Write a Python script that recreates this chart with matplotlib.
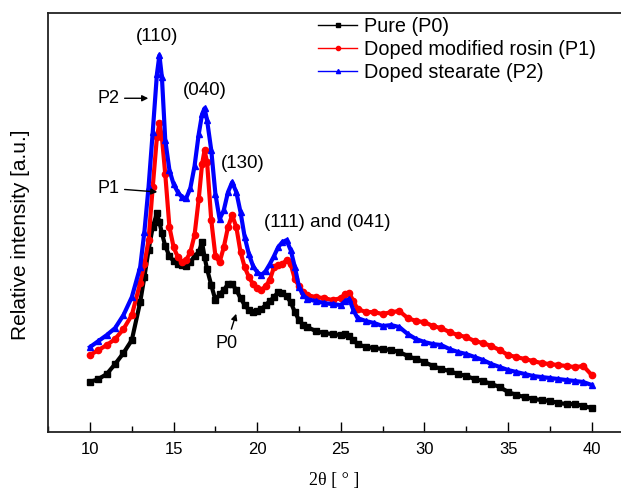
import matplotlib
matplotlib.use("Agg")
import matplotlib.pyplot as plt
from matplotlib.lines import Line2D
from matplotlib.ticker import MultipleLocator

# 2theta grid (deg) and relative intensities (a.u.)
two_theta = [10, 10.5, 11, 11.5, 12, 12.5, 13, 13.25, 13.5, 13.75,
             14, 14.15, 14.3, 14.5, 14.75, 15, 15.25, 15.5, 15.75, 16,
             16.25, 16.5, 16.7, 16.85, 17, 17.25, 17.5, 17.75, 18, 18.25,
             18.5, 18.75, 19, 19.25, 19.5, 19.75, 20, 20.25, 20.5, 20.75,
             21, 21.25, 21.5, 21.75, 22, 22.25, 22.5, 22.75, 23, 23.5,
             24, 24.5, 25, 25.25, 25.5, 25.75, 26, 26.5, 27, 27.5,
             28, 28.5, 29, 29.5, 30, 30.5, 31, 31.5, 32, 32.5,
             33, 33.5, 34, 34.5, 35, 35.5, 36, 36.5, 37, 37.5,
             38, 38.5, 39, 39.5, 40]

p0 = [50, 53, 58, 68, 79, 92, 130, 155, 182, 205,
      219, 210, 199, 186, 176, 171, 168, 167, 166, 170,
      176, 180, 190, 175, 163, 147, 132, 138, 142, 148,
      148, 142, 134, 127, 122, 120, 121, 123, 127, 131,
      135, 140, 139, 136, 130, 120, 112, 107, 105, 101,
      99, 98, 97, 98, 96, 92, 88, 85, 84, 83,
      82, 80, 76, 73, 70, 66, 63, 61, 58, 56,
      53, 51, 48, 45, 40, 37, 35, 33, 32, 31,
      29, 28, 28, 26, 24]

p1 = [77, 82, 87, 93, 103, 117, 149, 168, 192, 245,
      295, 309, 295, 258, 205, 185, 175, 170, 172, 180,
      197, 233, 268, 282, 270, 212, 176, 170, 185, 205,
      217, 205, 180, 165, 155, 148, 144, 142, 146, 152,
      165, 167, 168, 172, 168, 153, 146, 140, 137, 135,
      134, 132, 134, 138, 139, 131, 123, 120, 120, 118,
      120, 121, 114, 111, 110, 106, 104, 100, 97, 95,
      91, 89, 86, 82, 77, 75, 73, 71, 69, 68,
      67, 66, 65, 66, 57]

p2 = [85, 91, 97, 104, 117, 135, 165, 200, 245, 300,
      358, 377, 355, 292, 262, 248, 240, 235, 234, 244,
      266, 298, 318, 324, 312, 282, 238, 213, 222, 240,
      250, 240, 220, 195, 178, 166, 160, 157, 161, 168,
      176, 185, 190, 192, 182, 165, 145, 137, 133, 131,
      129, 128, 127, 131, 133, 122, 114, 111, 109, 106,
      107, 105, 98, 93, 90, 88, 87, 83, 80, 78,
      75, 72, 68, 65, 62, 60, 58, 56, 55, 54,
      53, 52, 51, 50, 47]

labels = ["Pure (P0)", "Doped modified rosin (P1)", "Doped stearate (P2)"]
colors = ["black", "red", "blue"]
markers = ["s", "o", "^"]

plt.rcParams['font.family'] = ['Liberation Sans', 'DejaVu Sans']

fig = plt.figure(figsize=(6.21, 4.94), dpi=100)
ax = fig.add_axes([0.0768, 0.1255, 0.9232, 0.8475])

for y, c, m in zip([p0, p1, p2], colors, markers):
    ax.plot(two_theta, y, color=c, marker=m, ms=4.5, lw=3)

ax.set_xlim(7.47, 41.75)
ax.set_ylim(0, 419)
ax.set_yticks([])
ax.set_xticks([10, 15, 20, 25, 30, 35, 40])
ax.xaxis.set_minor_locator(MultipleLocator(2.5))
ax.tick_params(axis="x", which="major", direction="in", length=7, width=1, labelsize=12, pad=7)
ax.tick_params(axis="x", which="minor", direction="in", length=4, width=1)
ax.spines["right"].set_visible(False)
for s in ["left", "bottom", "top"]:
    ax.spines[s].set_linewidth(1.3)
    ax.spines[s].set_color("#222222")

ax.set_ylabel("Relative intensity [a.u.]", fontsize=15)
ax.yaxis.set_label_coords(-0.03, 0.47)
ax.set_xlabel("2θ [ ° ]", fontsize=13, family="Liberation Serif", labelpad=11)

# peak labels
ax.text(14.0, 396, "(110)", fontsize=13.5, ha="center", va="center")
ax.text(16.88, 342, "(040)", fontsize=13.5, ha="center", va="center")
ax.text(19.15, 269, "(130)", fontsize=13.5, ha="center", va="center")
ax.text(24.17, 210, "(111) and (041)", fontsize=13.5, ha="center", va="center")

arrow = dict(arrowstyle="-|>", color="black", lw=1, mutation_scale=9)
ax.annotate("P2", xy=(13.65, 334), xytext=(11.08, 334), fontsize=13,
            ha="center", va="center", arrowprops=arrow)
ax.annotate("P1", xy=(14.19, 240), xytext=(11.08, 244), fontsize=13,
            ha="center", va="center", arrowprops=arrow)
ax.annotate("P0", xy=(18.79, 121), xytext=(18.19, 89), fontsize=13,
            ha="center", va="center", arrowprops=arrow)

handles = [Line2D([], [], color=c, marker=m, ms=3, lw=1) for c, m in zip(colors, markers)]
ax.legend(handles, labels, loc="upper left", bbox_to_anchor=(0.464, 1.0), frameon=False,
          fontsize=14.3, handlelength=2.0, handletextpad=0.35, labelspacing=0.2,
          borderaxespad=0, borderpad=0.2)

fig.savefig("out.png", dpi=100)
